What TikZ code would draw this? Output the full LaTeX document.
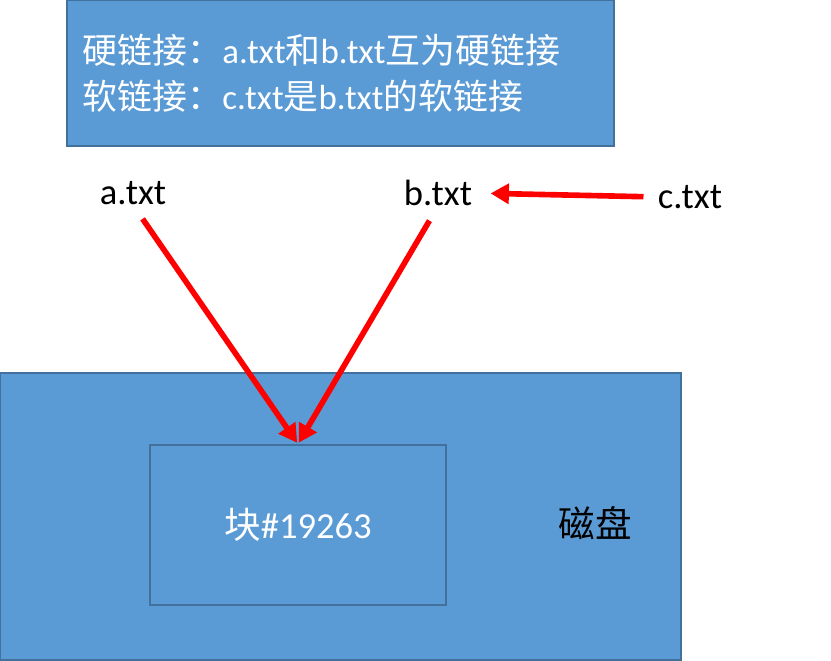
\documentclass[tikz,border=0pt]{standalone}
\usepackage{fontspec}
\setmainfont{Carlito}
\newfontfamily\cjk{Noto Sans CJK SC}
\usetikzlibrary{arrows.meta}
\definecolor{box area}{HTML}{5B9BD5}
\definecolor{box edge}{HTML}{41719C}
\def\files{{(133,193)/a}, {(438,193)/b}, {(690,197)/c}}
\def\links{a/blk, b/blk}
\tikzset{
  filled/.style={fill=box area, draw=box edge, line width=1.4pt, text=white, inner sep=0pt},
  bigtext/.style={font=\fontsize{26pt}{30pt}\selectfont}
  }
\tikzstyle{fname}=[bigtext, inner sep=0pt]
\tikzstyle{link} = [draw, red, line width=4pt, -{Triangle[length=13pt,width=14pt]}]

\begin{document}
\begin{tikzpicture}[x=0.025cm, y=-0.025cm]
  \useasboundingbox (0,0) rectangle (831,661);

  % The note on top
  \node[filled, minimum width=13.675cm, minimum height=3.65cm, align=left,
        text width=12.875cm, font=\fontsize{24.8pt}{32.7pt}\selectfont]
    (note) at (340.5,73)
    {{\cjk 硬链接：}a.txt{\cjk 和}b.txt{\cjk 互为硬链接}\\
     {\cjk 软链接：}c.txt{\cjk 是}b.txt{\cjk 的软链接}};

  % The disk and its block
  \node[filled, minimum width=17.025cm, minimum height=7.175cm] (disk) at (340.5,516.5) {};
  \node[filled, bigtext, minimum width=7.4cm, minimum height=4cm] (blk) at (298,525)
    {{\cjk 块}\#19263};
  \node[bigtext, inner sep=0pt] (disklbl) at (595,523) {\cjk 磁盘};

  % The file names
  \foreach \pos/\name in \files
    \node[fname] (\name) at \pos {\name.txt};

  % The links between them
  \foreach \source/\sink in \links
    \path[link, shorten <=12pt, shorten >=1pt] (\source.south) -- (\sink.north);
  \path[link, shorten <=10pt, shorten >=13pt] (c.west) -- (b.east);
\end{tikzpicture}
\end{document}
